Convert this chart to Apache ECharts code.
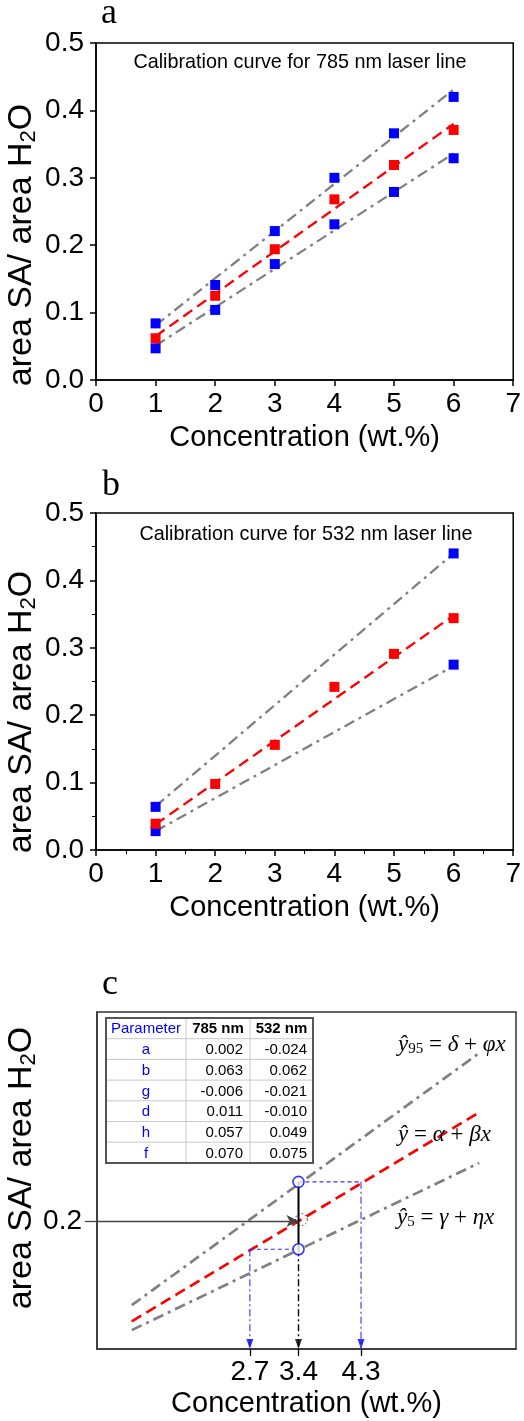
<!DOCTYPE html>
<html><head><meta charset="utf-8">
<script src="https://cdn.jsdelivr.net/npm/echarts@6/dist/echarts.min.js"></script>
<style>html,body{margin:0;padding:0;background:#fff}#c{width:524px;height:1421px}</style>
</head><body><div id="c"></div>
<script>
// ---------- data ----------
const conc = [1, 2, 3, 4, 5, 6];
const fitX = [1, 6];
// panel a : 785 nm
const aMean  = [0.062, 0.125, 0.194, 0.268, 0.319, 0.371];
const aUpper = [0.084, 0.141, 0.221, 0.300, 0.366, 0.420];
const aLower = [0.047, 0.104, 0.172, 0.231, 0.279, 0.329];
const aFit   = [0.065, 0.380];
const aUp95  = [0.081, 0.431];
const aLo5   = [0.051, 0.336];
// panel b : 532 nm
const bMean  = [0.039, 0.098, 0.156, 0.242, 0.291, 0.344];
const bBandX = [1, 6];
const bUpper = [0.064, 0.440];
const bLower = [0.028, 0.275];
const bFit   = [0.038, 0.348];
const bUp95  = [0.065, 0.440];
const bLo5   = [0.028, 0.273];
// panel c : scheme
const cLineX = [1, 6];
const cFit   = [0.051, 0.361];
const cUp95  = [0.075, 0.449];
const cLo5   = [0.038, 0.286];
const cY0 = 0.2, cX0 = 3.4, cXLow = 2.7, cXHigh = 4.3, cYUp = 0.258, cYLo = 0.158;
const cXTicks = [2.7, 3.4, 4.3];
const cYTicks = [0.2];
// table
const tableHead  = ['Parameter', '785 nm', '532 nm'];
const paramNames = ['a', 'b', 'g', 'd', 'h', 'f'];
const p785 = ['0.002', '0.063', '-0.006', '0.011', '0.057', '0.070'];
const p532 = ['-0.024', '0.062', '-0.021', '-0.010', '0.049', '0.075'];
const panelTitles = ['Calibration curve for 785 nm laser line', 'Calibration curve for 532 nm laser line'];
const panelLetters = ['a', 'b', 'c'];
const yTitle = '{m|area SA/ area H}{s|2}{m|O}';
const xTitle = 'Concentration (wt.%)';

// ---------- styling ----------
const FF = '"Liberation Sans", Arial, Helvetica, sans-serif';
const SERIF = '"Liberation Serif", "Times New Roman", serif';
const BLUE = '#0000ff', RED = '#ff0000', GRAY = '#808080';
const DASHDOT = [11, 5, 3, 5], DASH = [11, 6];
const pair = (xs, ys) => xs.map((x, i) => [x, ys[i]]);
const cXMin = 0.5, cXMax = 6.53, cYMin = 0.01, cYMax = 0.51;
const TICKFS = 28;

function xAxisAB(gi) {
  return {
    gridIndex: gi, type: 'value', min: 0, max: 7, interval: 1,
    axisLine: { show: true, onZero: false, lineStyle: { color: '#000', width: 1.5 } },
    axisTick: { show: true, inside: false, length: 6, lineStyle: { color: '#000', width: 1.5 } },
    minorTick: { show: gi === 1, splitNumber: 2, length: 4, lineStyle: { color: '#000', width: 1 } },
    splitLine: { show: false },
    axisLabel: { fontSize: TICKFS, color: '#000', fontFamily: FF, margin: 10 },
    name: xTitle, nameLocation: 'middle', nameGap: 43,
    nameTextStyle: { fontSize: 29, color: '#000', fontFamily: FF }
  };
}
function yAxisAB(gi) {
  return {
    gridIndex: gi, type: 'value', min: 0, max: 0.5, interval: 0.1,
    axisLine: { show: true, onZero: false, lineStyle: { color: '#000', width: 1.5 } },
    axisTick: { show: true, inside: false, length: 6, lineStyle: { color: '#000', width: 1.5 } },
    minorTick: { show: gi === 1, splitNumber: 2, length: 4, lineStyle: { color: '#000', width: 1 } },
    splitLine: { show: false },
    axisLabel: { fontSize: TICKFS, color: '#000', fontFamily: FF, margin: 12, formatter: v => v.toFixed(1) }
  };
}
function lineS(xi, data, color, dash, width) {
  return {
    type: 'line', xAxisIndex: xi, yAxisIndex: xi, data: data, symbol: 'none', silent: true,
    lineStyle: { color: color, type: dash, width: width }, z: 2
  };
}
function scat(xi, data, color, size) {
  return {
    type: 'scatter', xAxisIndex: xi, yAxisIndex: xi, data: data, symbol: 'rect', symbolSize: size || 10,
    itemStyle: { color: color, opacity: 1 }, z: 4, silent: true
  };
}

const series = [
  // panel a
  lineS(0, pair(fitX, aUp95), GRAY, DASHDOT, 2.3),
  lineS(0, pair(fitX, aLo5), GRAY, DASHDOT, 2.3),
  lineS(0, pair(fitX, aFit), RED, DASH, 2.3),
  scat(0, pair(conc, aUpper), BLUE),
  scat(0, pair(conc, aLower), BLUE),
  scat(0, pair(conc, aMean), RED),
  // panel b
  lineS(1, pair(fitX, bUp95), GRAY, DASHDOT, 2.3),
  lineS(1, pair(fitX, bLo5), GRAY, DASHDOT, 2.3),
  lineS(1, pair(fitX, bFit), RED, DASH, 2.3),
  scat(1, pair(bBandX, bUpper), BLUE),
  scat(1, pair(bBandX, bLower), BLUE),
  scat(1, pair(conc, bMean), RED),
  // panel c
  lineS(2, pair(cLineX, cUp95), GRAY, DASHDOT, 2.7),
  lineS(2, pair(cLineX, cLo5), GRAY, DASHDOT, 2.7),
  Object.assign(lineS(2, pair(cLineX, cFit), RED, DASH, 2.7), {
    markLine: {
      silent: true, symbol: ['none', 'arrow'], symbolSize: [9, 12], label: { show: false },
      lineStyle: { color: '#444', width: 1.3, type: 'solid' },
      data: [[{ coord: [cXMin, cY0] }, { coord: [cX0, cY0] }]]
    }
  }),
  lineS(2, [[cX0, cYUp], [cXHigh, cYUp]], '#3030ff', [4, 3], 1.1),
  lineS(2, [[cXLow, cYLo], [cX0, cYLo]], '#3030ff', [4, 3], 1.1),
  lineS(2, [[cXHigh, cYUp], [cXHigh, cYMin]], '#3030ff', [7, 3, 2, 3], 1.1),
  lineS(2, [[cXLow, cYLo], [cXLow, cYMin]], '#3030ff', [7, 3, 2, 3], 1.1),
  lineS(2, [[cX0, cYLo], [cX0, cYMin]], '#000', [7, 3, 2, 3], 1.4),
  lineS(2, [[cX0, cYLo], [cX0, cYUp]], '#000', 'solid', 2),
  {
    type: 'scatter', xAxisIndex: 2, yAxisIndex: 2, silent: true, z: 5,
    data: [[cX0, cYUp], [cX0, cYLo]], symbol: 'circle', symbolSize: 11,
    itemStyle: { color: '#fff', borderColor: BLUE, borderWidth: 1.6 }
  },
  {
    type: 'scatter', xAxisIndex: 2, yAxisIndex: 2, silent: true, z: 5,
    data: [[cX0 + 0.04, cY0 + 0.002]], symbol: 'circle', symbolSize: 12,
    itemStyle: { color: 'rgba(0,0,0,0)', borderColor: '#000', borderWidth: 1, borderType: [1.5, 2] }
  },
  {
    type: 'scatter', xAxisIndex: 2, yAxisIndex: 2, silent: true, z: 5,
    data: [[cXLow, cYMin], [cXHigh, cYMin]], symbol: 'triangle', symbolRotate: 180,
    symbolSize: [7, 10], symbolOffset: [0, -5], itemStyle: { color: BLUE }
  },
  {
    type: 'scatter', xAxisIndex: 2, yAxisIndex: 2, silent: true, z: 5,
    data: [[cX0, cYMin]], symbol: 'triangle', symbolRotate: 180,
    symbolSize: [7, 10], symbolOffset: [0, -5], itemStyle: { color: '#000' }
  }
];

// ---------- graphic (labels, table, equations) ----------
const graphic = [];
function txt(x, y, text, font, fill, align, valign, extra) {
  graphic.push(Object.assign({
    type: 'text', x: x, y: y, silent: true, z: 100,
    style: { text: text, font: font, fill: fill || '#000', align: align || 'left', verticalAlign: valign || 'middle' }
  }, extra || {}));
}
txt(109, 14, panelLetters[0], '36px ' + SERIF, '#000', 'center');
txt(111, 486, panelLetters[1], '36px ' + SERIF, '#000', 'center');
txt(110, 985, panelLetters[2], '36px ' + SERIF, '#000', 'center');
txt(300, 63, panelTitles[0], '19.8px ' + FF, '#000', 'center');
txt(306, 535, panelTitles[1], '19.8px ' + FF, '#000', 'center');

// rotated y titles
const yRich = {
  m: { fontSize: 34, fontFamily: FF, fill: '#000' },
  s: { fontSize: 22, fontFamily: FF, fill: '#000', verticalAlign: 'bottom', padding: [14, 0, 0, 0] }
};
[[22, 245], [22, 712], [22, 1168]].forEach(p => {
  graphic.push({ type: 'text', x: p[0], y: p[1], rotation: Math.PI / 2, silent: true, z: 100,
    style: { text: yTitle, rich: yRich, align: 'center', verticalAlign: 'middle' } });
});

// table
const tX = 106, tY = 1018, colW = [80, 64, 63], rowH = 20.7;
const tW = colW[0] + colW[1] + colW[2], nRows = paramNames.length + 1;
graphic.push({ type: 'rect', silent: true, z: 90, shape: { x: tX, y: tY, width: tW, height: rowH * nRows },
  style: { fill: '#fff', stroke: 'none' } });
for (let r = 1; r < nRows; r++) {
  graphic.push({ type: 'line', silent: true, z: 91, shape: { x1: tX, y1: tY + r * rowH, x2: tX + tW, y2: tY + r * rowH },
    style: { stroke: '#c8c8c8', lineWidth: 1 } });
}
let cx = tX;
for (let c = 0; c < 2; c++) {
  cx += colW[c];
  graphic.push({ type: 'line', silent: true, z: 91, shape: { x1: cx, y1: tY, x2: cx, y2: tY + rowH * nRows },
    style: { stroke: '#c8c8c8', lineWidth: 1 } });
}
graphic.push({ type: 'rect', silent: true, z: 92, shape: { x: tX, y: tY, width: tW, height: rowH * nRows },
  style: { fill: 'none', stroke: '#555', lineWidth: 2 } });
const c0 = tX + colW[0] / 2, c1R = tX + colW[0] + colW[1] - 7, c2R = tX + tW - 6;
const TF = '15px ' + FF;
txt(c0, tY + rowH / 2 + 1, tableHead[0], TF, BLUE, 'center');
txt(tX + colW[0] + colW[1] / 2, tY + rowH / 2 + 1, tableHead[1], 'bold ' + TF, '#000', 'center');
txt(tX + colW[0] + colW[1] + colW[2] / 2, tY + rowH / 2 + 1, tableHead[2], 'bold ' + TF, '#000', 'center');
paramNames.forEach((p, i) => {
  const y = tY + rowH * (i + 1) + rowH / 2 + 1;
  txt(c0, y, p, TF, BLUE, 'center');
  txt(c1R, y, p785[i], TF, '#000', 'right');
  txt(c2R, y, p532[i], TF, '#000', 'right');
});

// equations
const eqRich = {
  i: { fontFamily: SERIF, fontStyle: 'italic', fontSize: 23, fill: '#000' },
  r: { fontFamily: SERIF, fontSize: 23, fill: '#000' },
  s: { fontFamily: SERIF, fontSize: 15, fill: '#000', verticalAlign: 'bottom', padding: [8, 0, 0, 0] }
};
function eq(x, y, text) {
  graphic.push({ type: 'text', x: x, y: y, silent: true, z: 100,
    style: { text: text, rich: eqRich, align: 'left', verticalAlign: 'middle', fill: '#000' } });
}
eq(398, 1045, '{i|ŷ}{s|95}{r| = }{i|δ}{r| + }{i|φx}');
eq(398, 1135, '{i|ŷ}{r| = }{i|α}{r| + }{i|βx}');
eq(397, 1218, '{i|ŷ}{s|5}{r| = }{i|γ}{r| + }{i|ηx}');

const option = {
  animation: false,
  backgroundColor: '#fff',
  grid: [
    { left: 96, top: 43, width: 419, height: 337, show: true, borderColor: '#000', borderWidth: 1.5 },
    { left: 96, top: 513, width: 419, height: 337, show: true, borderColor: '#000', borderWidth: 1.5 },
    { left: 97, top: 1012, width: 419, height: 337, show: true, borderColor: '#333', borderWidth: 1.5 }
  ],
  xAxis: [
    xAxisAB(0), xAxisAB(1),
    {
      gridIndex: 2, type: 'value', min: cXMin, max: cXMax,
      axisLine: { show: true, onZero: false, lineStyle: { color: '#333', width: 1.5 } },
      axisTick: { show: true, inside: false, length: 7, customValues: cXTicks, lineStyle: { color: '#000', width: 1.3 } },
      splitLine: { show: false },
      axisLabel: { fontSize: TICKFS, color: '#000', fontFamily: FF, margin: 9, customValues: cXTicks, formatter: v => v.toFixed(1) },
      name: xTitle, nameLocation: 'middle', nameGap: 40,
      nameTextStyle: { fontSize: 29, color: '#000', fontFamily: FF }
    }
  ],
  yAxis: [
    yAxisAB(0), yAxisAB(1),
    {
      gridIndex: 2, type: 'value', min: cYMin, max: cYMax,
      axisLine: { show: true, onZero: false, lineStyle: { color: '#333', width: 1.5 } },
      axisTick: { show: true, inside: false, length: 12, customValues: cYTicks, lineStyle: { color: '#444', width: 1.3 } },
      splitLine: { show: false },
      axisLabel: { fontSize: TICKFS, color: '#000', fontFamily: FF, margin: 15, customValues: cYTicks, formatter: v => v.toFixed(1) }
    }
  ],
  series: series,
  graphic: graphic
};
const chart = echarts.init(document.getElementById('c'));
chart.setOption(option);
</script>
</body></html>
